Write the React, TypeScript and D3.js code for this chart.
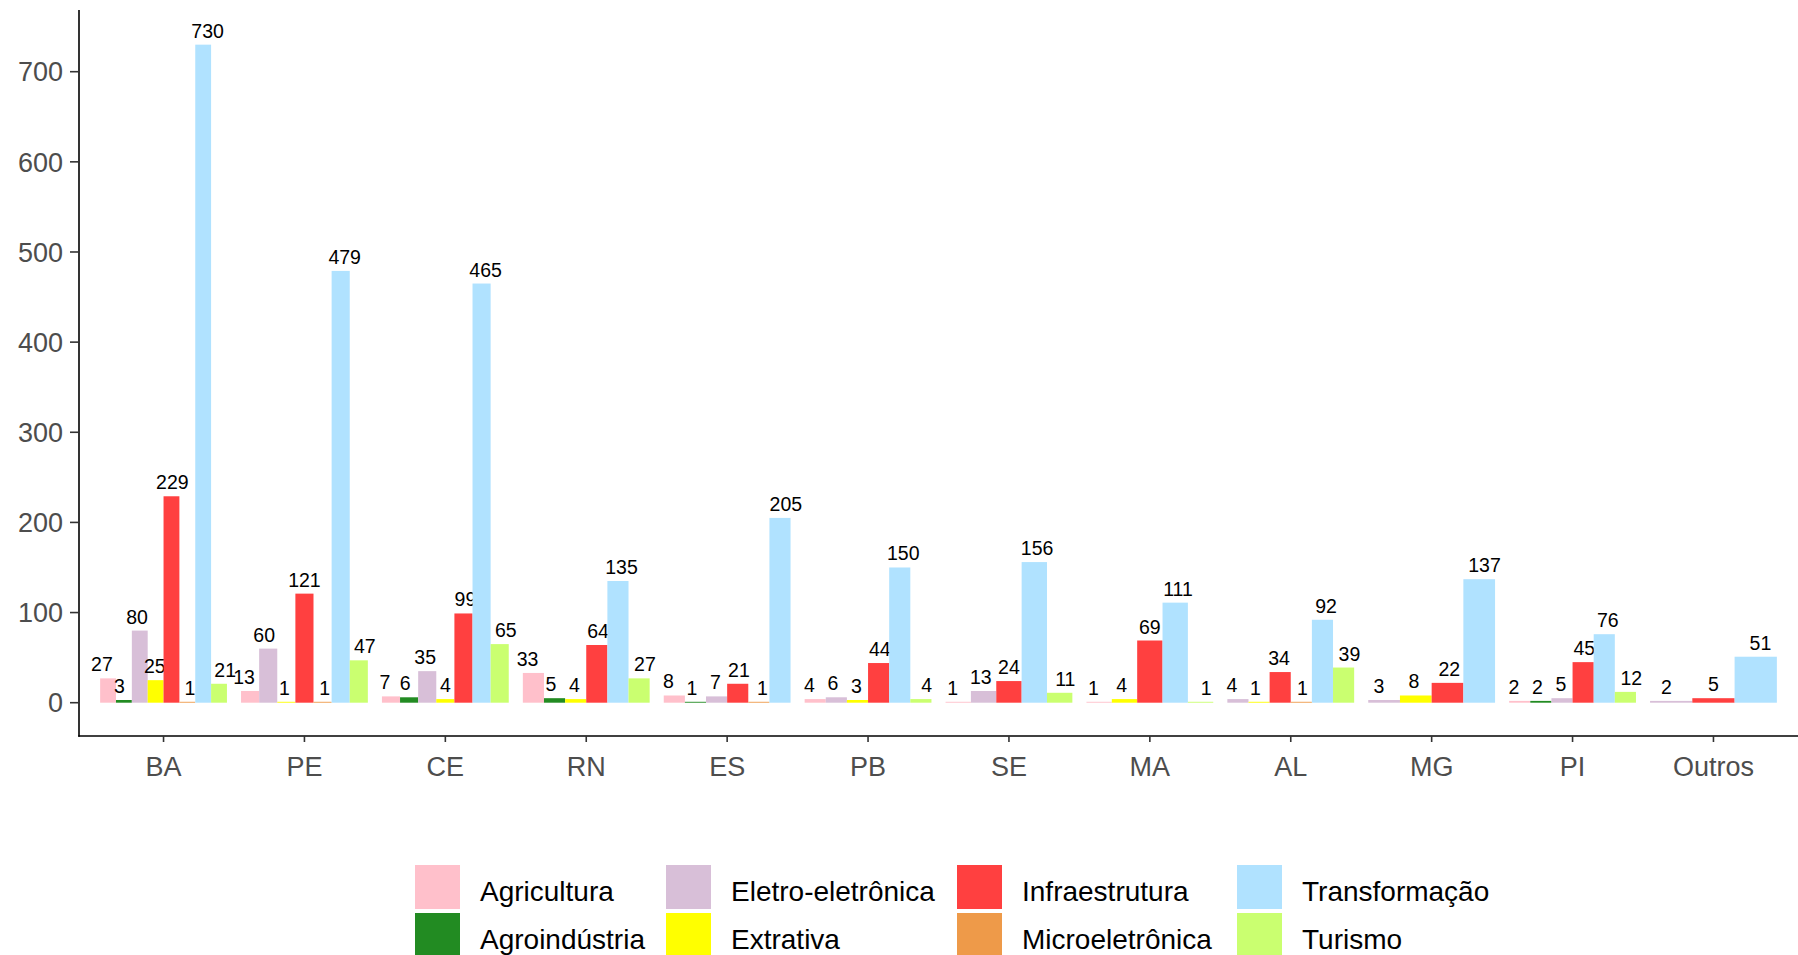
import React, { useRef, useEffect } from 'react';
import * as d3 from 'd3';

const states = ['BA', 'PE', 'CE', 'RN', 'ES', 'PB', 'SE', 'MA', 'AL', 'MG', 'PI', 'Outros'];

const categories = ['Agricultura', 'Agroindústria', 'Eletro-eletrônica', 'Extrativa', 'Infraestrutura', 'Microeletrônica', 'Transformação', 'Turismo'];
const colors = ['#FFC0CB', '#228B22', '#D8BFD8', '#FFFF00', '#FF4040', '#EE9A49', '#B0E2FF', '#CAFF70'];

// null = no projects of that type in that state
const agricultura = [27, 13, 7, 33, 8, 4, 1, 1, null, null, 2, null];
const agroindustria = [3, null, 6, 5, 1, null, null, null, null, null, 2, null];
const eletro = [80, 60, 35, null, 7, 6, 13, null, 4, 3, 5, 2];
const extrativa = [25, 1, 4, 4, null, 3, null, 4, 1, 8, null, null];
const infra = [229, 121, 99, 64, 21, 44, 24, 69, 34, 22, 45, 5];
const micro = [1, 1, null, null, 1, null, null, null, 1, null, null, null];
const transformacao = [730, 479, 465, 135, 205, 150, 156, 111, 92, 137, 76, 51];
const turismo = [21, 47, 65, 27, null, 4, 11, 1, 39, null, 12, null];

const series = [agricultura, agroindustria, eletro, extrativa, infra, micro, transformacao, turismo];
const yTicks = [0, 100, 200, 300, 400, 500, 600, 700];

export default function App() {
  const svgRef = useRef<SVGSVGElement>(null);

  useEffect(() => {
    if (!svgRef.current) return;
    const svg = d3.select(svgRef.current);
    svg.selectAll('*').remove();

    const font = '"Liberation Sans", Arial, sans-serif';
    const axisX = 79;
    const axisBottom = 736;

    const x = d3.scaleBand<string>()
      .domain(states)
      .range([axisX, 1798])
      .paddingOuter(0.1)
      .paddingInner(0);
    // category step and center
    const step = x.step();
    const cx = (s: string) => (x(s) as number) + x.bandwidth() / 2;

    const y = d3.scaleLinear().domain([0, 700]).range([702.7, 71.7]);

    // bars + labels, dodged per state over the categories present
    states.forEach((s, si) => {
      const present = categories
        .map((c, ci) => ({ c, ci, v: series[ci][si] }))
        .filter(d => d.v !== null) as { c: string; ci: number; v: number }[];
      const n = present.length;
      const bw = (0.9 * step) / n;
      present.forEach((d, i) => {
        const off = i - (n - 1) / 2;
        const bx = cx(s) + off * bw;
        svg.append('rect')
          .attr('x', bx - bw / 2)
          .attr('y', y(d.v))
          .attr('width', bw)
          .attr('height', y(0) - y(d.v))
          .attr('fill', colors[d.ci]);
        const lx = cx(s) + off * (step / n);
        svg.append('text')
          .attr('x', lx)
          .attr('y', y(d.v) - 7)
          .attr('text-anchor', 'middle')
          .attr('font-family', font)
          .attr('font-size', 19.5)
          .attr('fill', '#000')
          .text(d.v);
      });
    });

    // axes
    svg.append('line')
      .attr('x1', axisX).attr('x2', axisX)
      .attr('y1', 10).attr('y2', axisBottom + 0.75)
      .attr('stroke', '#000').attr('stroke-width', 1.6);
    svg.append('line')
      .attr('x1', axisX - 0.75).attr('x2', 1798)
      .attr('y1', axisBottom).attr('y2', axisBottom)
      .attr('stroke', '#000').attr('stroke-width', 1.6);

    yTicks.forEach(t => {
      svg.append('line')
        .attr('x1', axisX - 9).attr('x2', axisX)
        .attr('y1', y(t)).attr('y2', y(t))
        .attr('stroke', '#333').attr('stroke-width', 1.6);
      svg.append('text')
        .attr('x', axisX - 16)
        .attr('y', y(t))
        .attr('dy', '0.36em')
        .attr('text-anchor', 'end')
        .attr('font-family', font)
        .attr('font-size', 27)
        .attr('fill', '#4D4D4D')
        .text(t);
    });

    states.forEach(s => {
      svg.append('line')
        .attr('x1', cx(s)).attr('x2', cx(s))
        .attr('y1', axisBottom).attr('y2', axisBottom + 6)
        .attr('stroke', '#333').attr('stroke-width', 1.6);
      svg.append('text')
        .attr('x', cx(s))
        .attr('y', 776)
        .attr('text-anchor', 'middle')
        .attr('font-family', font)
        .attr('font-size', 27)
        .attr('fill', '#4D4D4D')
        .text(s);
    });

    // legend, 2 rows filled column-wise
    const colKeyX = [415, 666, 957, 1237];
    const rowKeyY = [865, 913];
    categories.forEach((c, i) => {
      const col = Math.floor(i / 2);
      const row = i % 2;
      svg.append('rect')
        .attr('x', colKeyX[col])
        .attr('y', rowKeyY[row])
        .attr('width', 45)
        .attr('height', 44)
        .attr('fill', colors[i]);
      svg.append('text')
        .attr('x', colKeyX[col] + 65)
        .attr('y', rowKeyY[row] + 36)
        .attr('font-family', font)
        .attr('font-size', 28)
        .attr('fill', '#000')
        .text(c);
    });
  }, []);

  return (
    <svg
      ref={svgRef}
      width={1798}
      height={955}
      style={{ position: 'absolute', left: 0, top: 0, background: '#fff' }}
    />
  );
}
